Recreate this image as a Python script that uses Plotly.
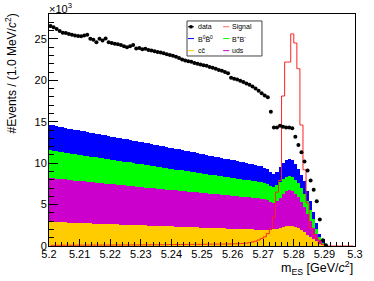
import numpy as np
import plotly.graph_objects as go

# ---- binning (1 MeV bins from 5.20 to 5.30 GeV) ----
bin_low = 5.2
bin_width = 0.001
n_bins = 100
mes_centers = np.round(bin_low + bin_width * (np.arange(n_bins) + 0.5), 4)

# ---- values (units of 10^3 events / bin) ----
data_counts = [
    26.55, 26.4, 26.2, 25.95, 25.75, 25.7, 25.6, 25.5, 25.4, 25.35,
    25.3, 25.4, 25.5, 25.0, 24.9, 24.6, 25.0, 24.8, 25.05, 24.6,
    24.5, 24.4, 24.35, 24.25, 24.1, 24.0, 24.1, 24.25, 23.85, 23.9,
    23.75, 23.8, 23.65, 23.6, 23.5, 23.4, 23.35, 23.25, 23.15, 23.05,
    22.95, 22.85, 22.7, 22.5, 22.4, 22.3, 22.25, 22.1, 22.0, 21.9,
    21.8, 21.75, 21.6, 21.5, 21.4, 21.25, 21.15, 21.0, 20.85, 20.3,
    20.2, 20.1, 19.95, 19.8, 19.6, 19.45, 19.25, 19.0, 18.75, 18.45,
    18.15, 17.95, 16.2, 14.3, 14.3, 14.5, 14.4, 14.3, 14.3, 14.2,
    13.2, 12.2, 11.3, 10.2, 9.1, 7.9, 6.8, 5.4, 3.2, 0.7,
    0.1, None, None, None, None, None, None, None, None, None,
]

signal = [
    0.08, 0.08, 0.09, 0.08, 0.09, 0.09, 0.10, 0.09, 0.10, 0.10,
    0.10, 0.10, 0.11, 0.10, 0.11, 0.11, 0.11, 0.12, 0.11, 0.12,
    0.12, 0.12, 0.13, 0.12, 0.13, 0.13, 0.13, 0.14, 0.13, 0.14,
    0.14, 0.14, 0.15, 0.15, 0.15, 0.15, 0.16, 0.16, 0.16, 0.17,
    0.17, 0.17, 0.18, 0.18, 0.18, 0.19, 0.19, 0.19, 0.20, 0.20,
    0.20, 0.21, 0.21, 0.22, 0.22, 0.23, 0.23, 0.24, 0.24, 0.25,
    0.26, 0.27, 0.29, 0.31, 0.35, 0.40, 0.48, 0.58, 0.72, 0.90,
    1.10, 1.50, 2.10, 3.50, 6.50, 7.90, 18.1, 22.2, 22.2, 25.6,
    24.5, 21.4, 14.6, 9.2, 5.2, 2.2, 1.4, 0.9, 0.5, 0.2,
    0.05, 0.0, 0.0, 0.0, 0.0, 0.0, 0.0, 0.0, 0.0, 0.0,
]

ccbar = [
    2.90, 2.89, 2.88, 2.86, 2.85, 2.84, 2.82, 2.81, 2.79, 2.78,
    2.77, 2.75, 2.74, 2.72, 2.71, 2.70, 2.68, 2.67, 2.66, 2.64,
    2.63, 2.62, 2.60, 2.59, 2.57, 2.56, 2.55, 2.53, 2.52, 2.51,
    2.49, 2.48, 2.47, 2.45, 2.44, 2.43, 2.41, 2.40, 2.38, 2.37,
    2.36, 2.34, 2.33, 2.32, 2.30, 2.29, 2.28, 2.26, 2.25, 2.23,
    2.22, 2.21, 2.19, 2.18, 2.17, 2.15, 2.14, 2.13, 2.11, 2.10,
    2.09, 2.07, 2.06, 2.04, 2.03, 2.02, 2.00, 1.99, 1.98, 1.97,
    1.96, 1.95, 1.96, 2.00, 2.08, 2.18, 2.30, 2.38, 2.42, 2.40,
    2.32, 2.18, 1.95, 1.65, 1.35, 1.08, 0.82, 0.55, 0.30, 0.10,
    0.02, 0.0, 0.0, 0.0, 0.0, 0.0, 0.0, 0.0, 0.0, 0.0,
]

uds = [
    5.30, 5.29, 5.25, 5.24, 5.20, 5.19, 5.15, 5.14, 5.10, 5.08,
    5.06, 5.05, 5.01, 4.99, 4.97, 4.94, 4.93, 4.90, 4.87, 4.86,
    4.83, 4.81, 4.79, 4.76, 4.74, 4.72, 4.70, 4.67, 4.65, 4.63,
    4.61, 4.58, 4.56, 4.54, 4.51, 4.50, 4.47, 4.45, 4.43, 4.41,
    4.39, 4.36, 4.35, 4.32, 4.30, 4.28, 4.26, 4.24, 4.22, 4.20,
    4.18, 4.16, 4.13, 4.11, 4.09, 4.07, 4.05, 4.02, 4.00, 3.98,
    3.96, 3.94, 3.91, 3.89, 3.87, 3.85, 3.82, 3.80, 3.77, 3.74,
    3.69, 3.60, 3.39, 3.25, 3.37, 3.67, 4.00, 4.22, 4.28, 4.20,
    3.98, 3.72, 3.40, 3.05, 2.55, 1.92, 1.38, 0.85, 0.40, 0.10,
    0.01, 0.0, 0.0, 0.0, 0.0, 0.0, 0.0, 0.0, 0.0, 0.0,
]

bpbm = [
    3.35, 3.34, 3.30, 3.29, 3.27, 3.24, 3.23, 3.20, 3.18, 3.17,
    3.15, 3.12, 3.11, 3.08, 3.06, 3.05, 3.02, 3.01, 2.98, 2.96,
    2.95, 2.92, 2.90, 2.89, 2.86, 2.84, 2.83, 2.80, 2.78, 2.77,
    2.74, 2.72, 2.71, 2.68, 2.66, 2.64, 2.62, 2.60, 2.58, 2.56,
    2.54, 2.52, 2.50, 2.48, 2.46, 2.44, 2.42, 2.40, 2.38, 2.36,
    2.34, 2.32, 2.30, 2.28, 2.26, 2.24, 2.22, 2.20, 2.18, 2.16,
    2.14, 2.12, 2.10, 2.08, 2.06, 2.04, 2.02, 2.00, 1.98, 1.96,
    1.90, 1.90, 1.90, 1.90, 1.90, 1.90, 1.80, 1.75, 1.70, 1.70,
    1.70, 1.65, 1.65, 1.60, 1.50, 1.30, 1.00, 0.70, 0.40, 0.15,
    0.02, 0.0, 0.0, 0.0, 0.0, 0.0, 0.0, 0.0, 0.0, 0.0,
]

b0b0 = [
    3.05, 3.06, 3.03, 3.02, 3.00, 3.00, 2.98, 2.97, 2.95, 2.95,
    2.93, 2.92, 2.91, 2.89, 2.88, 2.87, 2.86, 2.84, 2.83, 2.82,
    2.80, 2.79, 2.78, 2.77, 2.75, 2.74, 2.73, 2.71, 2.70, 2.69,
    2.67, 2.66, 2.65, 2.63, 2.61, 2.60, 2.58, 2.56, 2.55, 2.53,
    2.51, 2.49, 2.48, 2.46, 2.44, 2.42, 2.41, 2.39, 2.37, 2.35,
    2.33, 2.32, 2.30, 2.28, 2.26, 2.24, 2.22, 2.20, 2.18, 2.16,
    2.14, 2.12, 2.10, 2.08, 2.06, 2.04, 2.02, 2.00, 1.98, 1.96,
    1.90, 1.85, 1.70, 1.55, 1.55, 1.75, 1.90, 2.00, 2.05, 2.05,
    1.90, 1.75, 1.60, 1.50, 1.20, 1.10, 0.90, 0.70, 0.40, 0.15,
    0.03, 0.0, 0.0, 0.0, 0.0, 0.0, 0.0, 0.0, 0.0, 0.0,
]

x_tick_labels = ["5.2", "5.21", "5.22", "5.23", "5.24", "5.25",
                 "5.26", "5.27", "5.28", "5.29", "5.3"]
y_tick_labels = ["0", "5", "10", "15", "20", "25"]

FONT = "Liberation Sans, Arial, Helvetica, sans-serif"

fig = go.Figure()

stack = [
    ("c\u0304c", ccbar, "#ffcc00"),
    ("uds", uds, "#cc00cc"),
    ("B+B-", bpbm, "#00ff00"),
    ("B0B0bar", b0b0, "#0000ff"),
]
for name, vals, col in stack:
    fig.add_trace(go.Bar(
        x=mes_centers, y=vals, width=bin_width, name=name,
        marker=dict(color=col, line=dict(width=0)),
        showlegend=False, hoverinfo="skip",
    ))

fig.add_trace(go.Scatter(
    x=mes_centers, y=signal, mode="lines", name="Signal",
    line=dict(color="#ff2020", width=1, shape="hvh"),
    showlegend=False, hoverinfo="skip",
))

fig.add_trace(go.Scatter(
    x=mes_centers, y=data_counts, mode="markers", name="data",
    marker=dict(color="black", size=4, line=dict(width=0)),
    showlegend=False, hoverinfo="skip",
))

fig.update_layout(
    width=374, height=281,
    margin=dict(l=49, r=19, t=14, b=35),
    paper_bgcolor="white", plot_bgcolor="white",
    barmode="stack", bargap=0,
    font=dict(family=FONT, size=11, color="black"),
)

fig.update_xaxes(
    range=[5.2, 5.3],
    tickmode="array",
    tickvals=[float(t) for t in x_tick_labels],
    ticktext=x_tick_labels,
    ticks="inside", ticklen=7, tickwidth=1, tickcolor="black",
    minor=dict(tickmode="linear", tick0=5.2, dtick=0.002, ticks="inside",
               ticklen=4, tickwidth=1, tickcolor="black"),
    showline=True, linecolor="black", linewidth=1, mirror=True,
    showgrid=False, zeroline=False,
    tickfont=dict(size=11, family=FONT),
    ticklabelstandoff=-2,
)
fig.update_yaxes(
    range=[0, 28],
    tickmode="array",
    tickvals=[float(t) for t in y_tick_labels],
    ticktext=y_tick_labels,
    ticks="inside", ticklen=9, tickwidth=1, tickcolor="black",
    minor=dict(tickmode="linear", tick0=0, dtick=1, ticks="inside",
               ticklen=5, tickwidth=1, tickcolor="black"),
    showline=True, linecolor="black", linewidth=1, mirror=True,
    showgrid=False, zeroline=False,
    tickfont=dict(size=11, family=FONT),
    ticklabelstandoff=-1,
)

annotations = [
    dict(text="\u00d710<sup>3</sup>", x=0, y=1, xref="paper", yref="paper",
         xanchor="left", yanchor="bottom", showarrow=False,
         font=dict(size=11, family=FONT), xshift=-2, yshift=-3),
    dict(text="#Events / (1.0 MeV/<i>c</i><sup>2</sup>)", textangle=-90,
         x=-0.125, y=1.01, xref="paper", yref="paper", xanchor="center",
         yanchor="top", showarrow=False, font=dict(size=12, family=FONT)),
    dict(text="m<sub>ES</sub> [GeV/<i>c</i><sup>2</sup>]",
         x=1, y=-0.095, xref="paper", yref="paper", xanchor="right",
         yanchor="middle", showarrow=False, font=dict(size=12.5, family=FONT)),
]

# ---- legend (two columns, ROOT style) ----
leg_entries = [
    ("data", "black", 0, 0),
    ("Signal", "#ff6060", 1, 0),
    ("B<sup>0</sup>B\u0304<sup>0</sup>", "#0000ff", 0, 1),
    ("B<sup>+</sup>B<sup>-</sup>", "#00ff00", 1, 1),
    ("cc\u0304", "#ffcc00", 0, 2),
    ("uds", "#cc00cc", 1, 2),
]
row_y = [0.945, 0.894, 0.842]
col_line = [(0.454, 0.474), (0.569, 0.589)]
col_text = [0.479, 0.592]
shapes = [dict(type="rect", xref="paper", yref="paper",
               x0=0.451, x1=0.696, y0=0.819, y1=0.970,
               line=dict(color="#444444", width=1), fillcolor="white",
               layer="above")]
for label, col, c, r in leg_entries:
    x0, x1 = col_line[c]
    shapes.append(dict(type="line", xref="paper", yref="paper",
                       x0=x0, x1=x1, y0=row_y[r], y1=row_y[r],
                       line=dict(color=col, width=1), layer="above"))
    if label == "data":
        xm = (x0 + x1) / 2
        shapes.append(dict(type="circle", xref="paper", yref="paper",
                           x0=xm - 0.006, x1=xm + 0.006,
                           y0=row_y[r] - 0.008, y1=row_y[r] + 0.008,
                           fillcolor="black", line=dict(width=0),
                           layer="above"))
    annotations.append(dict(text=label, x=col_text[c], y=row_y[r],
                            xref="paper", yref="paper", xanchor="left",
                            yanchor="middle", showarrow=False,
                            font=dict(size=7, family=FONT)))

fig.update_layout(annotations=annotations, shapes=shapes)

fig.write_html(
    "out.html",
    config={"displayModeBar": False, "staticPlot": True},
    post_script="document.body.style.margin='0';"
                "document.body.style.overflow='hidden';",
)
